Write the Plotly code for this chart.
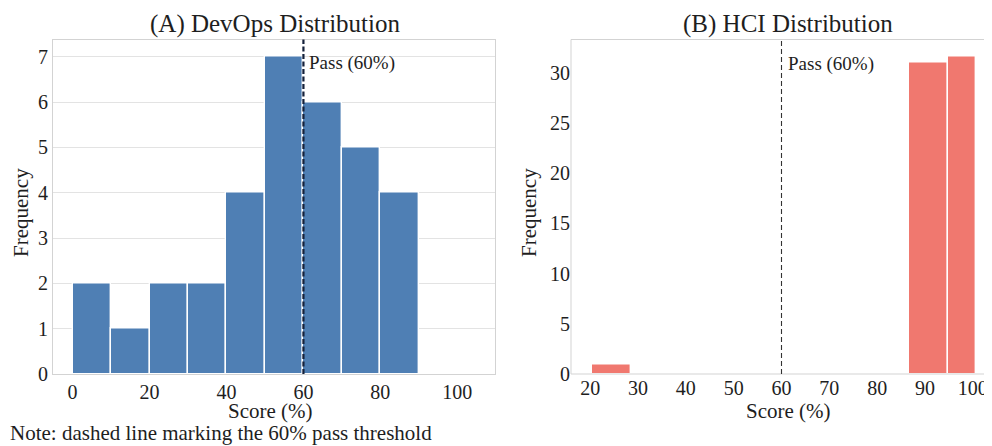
import plotly.graph_objects as go

# DevOps histogram
devops_bin_left = [0, 10, 20, 30, 40, 50, 60, 70, 80]
devops_bin_right = [10, 20, 30, 40, 50, 60, 70, 80, 90]
devops_counts = [2, 1, 2, 2, 4, 7, 6, 5, 4]

# HCI histogram
hci_bin_left = [20.35, 86.7, 94.9]
hci_bin_right = [28.6, 94.9, 100.7]
hci_counts = [0.9, 31.0, 31.6]

pass_mark = 60
devops_xticks = [0, 20, 40, 60, 80, 100]
devops_yticks = [0, 1, 2, 3, 4, 5, 6, 7]
hci_xticks = [20, 30, 40, 50, 60, 70, 80, 90, 100]
hci_yticks = [0, 5, 10, 15, 20, 25, 30]

FONT = "Liberation Serif"
OFF = 8  # page body margin
W, H = 992 - OFF, 446 - OFF

def px_x(p):
    return (p - OFF) / W

def px_y(p):
    return 1 - (p - OFF) / H

fig = go.Figure()

fig.add_trace(go.Bar(
    x=[(a + b) / 2 for a, b in zip(devops_bin_left, devops_bin_right)],
    y=devops_counts,
    width=[b - a for a, b in zip(devops_bin_left, devops_bin_right)],
    marker=dict(color="#4f7fb4", line=dict(color="white", width=1.4)),
    xaxis="x", yaxis="y", showlegend=False, hoverinfo="skip",
))
fig.add_trace(go.Bar(
    x=[(a + b) / 2 for a, b in zip(hci_bin_left, hci_bin_right)],
    y=hci_counts,
    width=[b - a for a, b in zip(hci_bin_left, hci_bin_right)],
    marker=dict(color="#f0786f", line=dict(color="white", width=1.4)),
    xaxis="x2", yaxis="y2", showlegend=False, hoverinfo="skip",
))

ydom = [px_y(374), px_y(39.5)]
TXT = "#1e1e1e"
tickfont = dict(family=FONT, size=20, color=TXT)

fig.update_layout(
    width=W, height=H,
    margin=dict(l=0, r=0, t=0, b=0, autoexpand=False),
    paper_bgcolor="white", plot_bgcolor="white",
    bargap=0,
    font=dict(family=FONT, color=TXT),
    xaxis=dict(domain=[px_x(53), px_x(495)], range=[-5.1, 109.8],
               tickvals=devops_xticks, tickfont=tickfont, showgrid=False,
               zeroline=False, showline=True, linecolor="#d3d3d3", linewidth=1,
               mirror=True, ticks="", anchor="y", automargin=False),
    yaxis=dict(domain=ydom, range=[0, 7.38], tickvals=devops_yticks,
               tickfont=tickfont, showgrid=True, gridcolor="#e3e3e3", gridwidth=1,
               zeroline=False, showline=True, linecolor="#d3d3d3", linewidth=1,
               mirror=True, ticks="", anchor="x", automargin=False),
    xaxis2=dict(domain=[px_x(571), 1.0], range=[16.0, 104.0],
                tickvals=hci_xticks, tickfont=tickfont, showgrid=False,
                zeroline=False, showline=False, ticks="", anchor="y2",
                automargin=False),
    yaxis2=dict(domain=ydom, range=[0, 33.3], tickvals=hci_yticks,
                tickfont=tickfont, showgrid=False, zeroline=False,
                showline=False, ticks="", anchor="x2", automargin=False),
)

# frame for right panel (left, top, bottom only; right edge is cropped)
frame = dict(color="#d3d3d3", width=1)
fig.add_shape(type="line", xref="paper", yref="paper", x0=px_x(571), x1=1.0,
              y0=ydom[1], y1=ydom[1], line=frame)
fig.add_shape(type="line", xref="paper", yref="paper", x0=px_x(571), x1=1.0,
              y0=ydom[0], y1=ydom[0], line=frame)
fig.add_shape(type="line", xref="paper", yref="paper", x0=px_x(571), x1=px_x(571),
              y0=ydom[0], y1=ydom[1], line=frame)

# pass lines
fig.add_shape(type="line", xref="x", yref="y domain", x0=pass_mark, x1=pass_mark,
              y0=0, y1=1, line=dict(color="#14203a", width=2.2, dash="5px,2.5px"))
fig.add_shape(type="line", xref="x2", yref="y2 domain", x0=pass_mark, x1=pass_mark,
              y0=0, y1=1, line=dict(color="#333333", width=1.1, dash="5px,3px"))

fig.add_annotation(x=pass_mark + 1.0, y=6.86, xref="x", yref="y", text="Pass (60%)",
                   showarrow=False, xanchor="left", yanchor="middle",
                   font=dict(family=FONT, size=19, color=TXT))
fig.add_annotation(x=pass_mark + 1.0, y=30.9, xref="x2", yref="y2", text="Pass (60%)",
                   showarrow=False, xanchor="left", yanchor="middle",
                   font=dict(family=FONT, size=19, color=TXT))

def label(x, y, text, size, angle=0, xanchor="center"):
    fig.add_annotation(x=px_x(x), y=px_y(y), xref="paper", yref="paper",
                       text=text, showarrow=False, textangle=angle,
                       xanchor=xanchor, yanchor="middle", borderpad=0,
                       font=dict(family=FONT, size=size, color=TXT))

# titles
label(275, 24, "(A) DevOps Distribution", 25)
label(788, 24, "(B) HCI Distribution", 25)
# axis titles
label(270, 411, "Score (%)", 21)
label(788, 411, "Score (%)", 21)
label(21, 213, "Frequency", 21, angle=-90)
label(529, 213, "Frequency", 21, angle=-90)
# note
label(9, 433, "Note: dashed line marking the 60% pass threshold", 21, xanchor="left")

fig.write_html("out.html")
